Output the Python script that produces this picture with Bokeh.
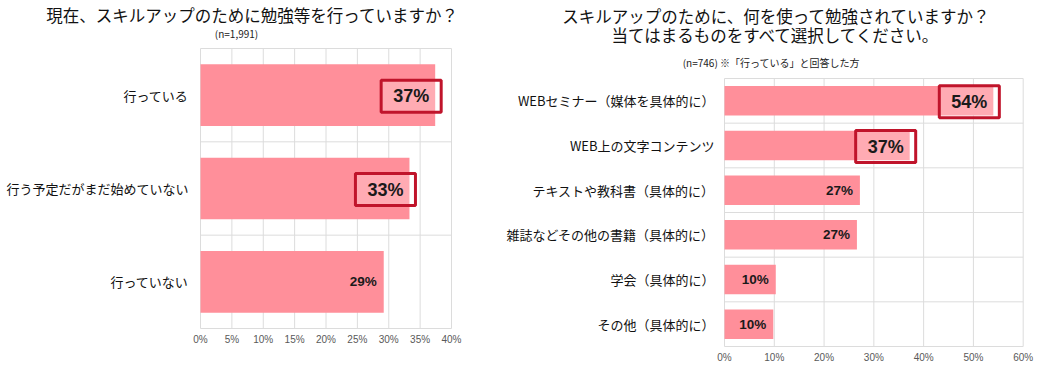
from bokeh.plotting import figure
from bokeh.models import Range1d, FixedTicker, PrintfTickFormatter, ColumnDataSource
from bokeh.layouts import row
from bokeh.embed import file_html
from bokeh.resources import INLINE
from bokeh.core.properties import value

# ---- data ----
left_title = ["現在、スキルアップのために勉強等を行っていますか？"]
left_note = "(n=1,991)"
left_categories = ["行っている", "行う予定だがまだ始めていない", "行っていない"]
left_values = [37.4, 33.3, 29.2]
left_labels = ["37%", "33%", "29%"]
left_highlight = [True, True, False]
left_ticks = [0, 5, 10, 15, 20, 25, 30, 35, 40]

right_title = ["スキルアップのために、何を使って勉強されていますか？",
               "当てはまるものをすべて選択してください。"]
right_note = "(n=746)  ※「行っている」と回答した方"
right_categories = ["WEBセミナー（媒体を具体的に）", "WEB上の文字コンテンツ",
                    "テキストや教科書（具体的に）", "雑誌などその他の書籍（具体的に）",
                    "学会（具体的に）", "その他（具体的に）"]
right_values = [54.0, 37.2, 27.2, 26.6, 10.3, 9.8]
right_labels = ["54%", "37%", "27%", "27%", "10%", "10%"]
right_highlight = [True, True, False, False, False, False]
right_ticks = [0, 10, 20, 30, 40, 50, 60]

BAR = "#FF8F9A"
RED = "#C0142B"
GRID = "#DCDCDC"
JP = "Noto Sans CJK JP"
LAT = "Liberation Sans"


def make_chart(categories, values, labels, highlight, ticks, title_lines, note,
               width, height, px_left, px_right, px_top, px_bottom,
               title_pos, note_pos, ystand):
    """px_* : pixel box (within this figure) of the plotting area."""
    n = len(categories)
    ypos = [n - 1 - i for i in range(n)]
    kx = (ticks[-1] - ticks[0]) / (px_right - px_left)   # data per px
    ky = n / (px_bottom - px_top)

    def dx(px):
        return ticks[0] + (px - px_left) * kx

    def dy(py):
        return (n - 0.5) - (py - px_top) * ky

    p = figure(width=width, height=height, output_backend="svg", toolbar_location=None,
               title=None,
               x_range=Range1d(dx(0), dx(width)), y_range=Range1d(dy(height), dy(0)),
               min_border=0, min_border_left=0, min_border_right=0,
               min_border_top=0, min_border_bottom=0)
    p.outline_line_color = None
    p.background_fill_color = "white"
    p.border_fill_color = "white"
    p.xgrid.visible = False
    p.ygrid.visible = False

    # grid lines bounded to the plotting area
    bounds_y = [k - 0.5 for k in range(n + 1)]
    p.segment(x0=ticks, x1=ticks, y0=[-0.5] * len(ticks), y1=[n - 0.5] * len(ticks),
              line_color=GRID, line_width=1)
    p.segment(x0=[ticks[0]] * len(bounds_y), x1=[ticks[-1]] * len(bounds_y),
              y0=bounds_y, y1=bounds_y, line_color=GRID, line_width=1)

    src = ColumnDataSource(dict(y=ypos, v=values))
    p.hbar(y="y", left=0, right="v", height=0.66, source=src,
           fill_color=BAR, line_color=None)

    norm = [i for i in range(n) if not highlight[i]]
    hi = [i for i in range(n) if highlight[i]]
    src_n = ColumnDataSource(dict(y=[ypos[i] for i in norm], v=[values[i] for i in norm],
                                  t=[labels[i] for i in norm]))
    src_h = ColumnDataSource(dict(y=[ypos[i] for i in hi], v=[values[i] for i in hi],
                                  t=[labels[i] for i in hi]))
    p.text(x="v", y="y", text="t", source=src_n, text_align="right",
           text_baseline="middle", x_offset=-7, text_font=value(LAT),
           text_font_style="bold", text_font_size="13.5px", text_color="#1a1a1a")
    p.text(x="v", y="y", text="t", source=src_h, text_align="right",
           text_baseline="middle", x_offset=6, y_offset=1, text_font=value(LAT),
           text_font_style="bold", text_font_size="18px", text_color="#1a1a1a",
           background_fill_color="white", background_fill_alpha=0.25,
           border_line_color=RED, border_line_width=3, padding=(12, 6))

    for ax in (p.xaxis[0], p.yaxis[0]):
        ax.axis_line_color = None
        ax.major_tick_line_color = None
        ax.minor_tick_line_color = None
        ax.major_tick_out = 0
        ax.major_tick_in = 0
        ax.minor_tick_out = 0
    p.xaxis.fixed_location = -0.5
    p.xaxis.ticker = FixedTicker(ticks=ticks)
    p.xaxis.formatter = PrintfTickFormatter(format="%d%%")
    p.xaxis.major_label_text_font = LAT
    p.xaxis.major_label_text_font_size = "10px"
    p.xaxis.major_label_text_color = "#595959"
    p.xaxis.major_label_standoff = 5

    p.yaxis.fixed_location = ticks[0]
    p.yaxis.ticker = FixedTicker(ticks=ypos)
    p.yaxis.major_label_overrides = {ypos[i]: categories[i] for i in range(n)}
    p.yaxis.major_label_text_font = JP
    p.yaxis.major_label_text_font_size = "13px"
    p.yaxis.major_label_text_color = "#111111"
    p.yaxis.major_label_standoff = ystand

    tx, tys = title_pos
    p.text(x=[dx(tx)] * len(title_lines), y=[dy(ty) for ty in tys], text=title_lines,
           text_align="center", text_baseline="middle", text_font=value(JP),
           text_font_size="16.5px", text_color="#111111")
    p.text(x=[dx(note_pos[0])], y=[dy(note_pos[1])], text=[note],
           text_align="center", text_baseline="middle", text_font=value(JP),
           text_font_size="10px", text_color="#222222")
    return p


pl = make_chart(left_categories, left_values, left_labels, left_highlight, left_ticks,
                left_title, left_note, 480, 376, 200, 451, 48, 328,
                (252, [14]), (236, 33), 12)
pr = make_chart(right_categories, right_values, right_labels, right_highlight, right_ticks,
                right_title, right_note, 561, 376, 244, 542.7, 78, 346,
                (296, [15, 34]), (292, 62), 10)

layout = row(pl, pr)
open("out.html", "w").write(file_html(layout, INLINE))
